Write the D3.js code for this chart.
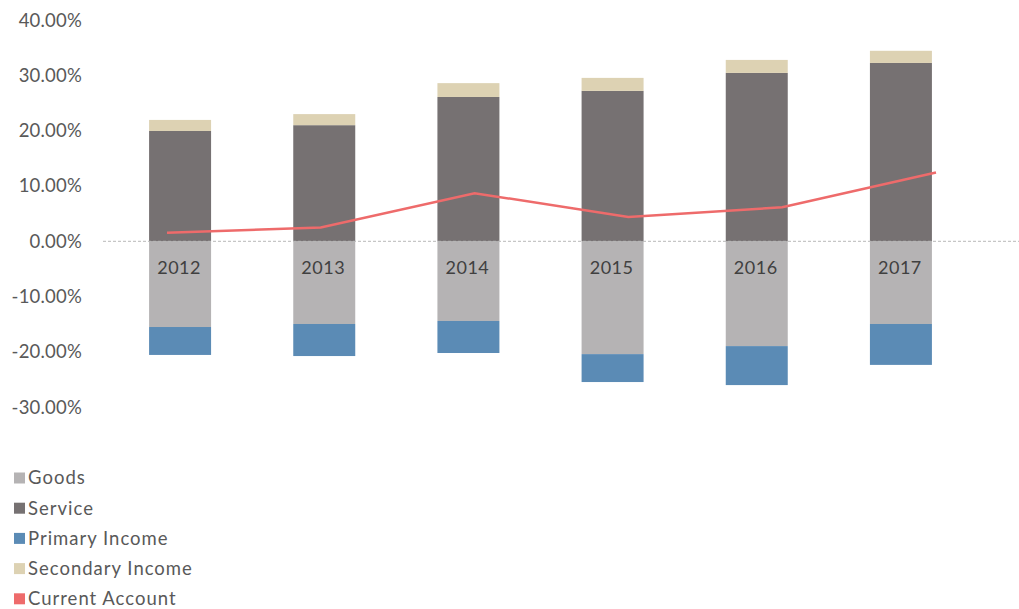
<!DOCTYPE html>
<html>
<head>
<meta charset="utf-8">
<script src="https://cdn.jsdelivr.net/npm/d3@7"></script>
<style>
  body { margin: 0; background: #fff; }
  text { font-family: Lato, "Open Sans", sans-serif; }
</style>
</head>
<body>
<script>
"use strict";

var years = ["2012", "2013", "2014", "2015", "2016", "2017"];
var goods = [-15.5, -14.95, -14.4, -20.4, -18.95, -14.95];
var service = [19.95, 21.0, 26.1, 27.2, 30.45, 32.25];
var primaryIncome = [-5.05, -5.8, -5.8, -5.05, -7.05, -7.4];
var secondaryIncome = [2.0, 2.0, 2.5, 2.35, 2.35, 2.2];
var currentAccount = [1.55, 2.5, 8.7, 4.4, 6.15, 12.45];
var yTicks = [40, 30, 20, 10, 0, -10, -20, -30];

var legendItems = [
  { name: "Goods", color: "#b5b3b4" },
  { name: "Service", color: "#767172" },
  { name: "Primary Income", color: "#5b8bb5" },
  { name: "Secondary Income", color: "#ddd2b3" },
  { name: "Current Account", color: "#ee6b6b" }
];

var width = 1019;
var height = 609;

var svg = d3.select("body").append("svg")
    .attr("width", width)
    .attr("height", height);

var y = d3.scaleLinear().domain([-30, 40]).range([407.2, 20.1]);

var x = d3.scaleBand().domain(years).range([108, 973]).paddingInner(0.57).paddingOuter(0.285);

// line uses its own evenly spaced positions (secondary category axis)
var xLine = d3.scalePoint().domain(years).range([167, 936]);

// y axis labels
svg.append("g").selectAll("text")
    .data(yTicks)
    .enter().append("text")
      .attr("x", 82)
      .attr("y", function (d) { return y(d); })
      .attr("dy", "0.35em")
      .attr("text-anchor", "end")
      .style("font-size", "18.5px")
      .style("letter-spacing", "0.2px")
      .style("fill", "#595959")
      .text(function (d) { return d.toFixed(2) + "%"; });

// stacked segments: positives stack up, negatives stack down
var segs = [];
years.forEach(function (yr, i) {
  segs.push({ year: yr, y0: 0, y1: goods[i], color: legendItems[0].color });
  segs.push({ year: yr, y0: goods[i], y1: goods[i] + primaryIncome[i], color: legendItems[2].color });
  segs.push({ year: yr, y0: 0, y1: service[i], color: legendItems[1].color });
  segs.push({ year: yr, y0: service[i], y1: service[i] + secondaryIncome[i], color: legendItems[3].color });
});

svg.append("g").selectAll("rect")
    .data(segs)
    .enter().append("rect")
      .attr("x", function (d) { return x(d.year); })
      .attr("width", x.bandwidth())
      .attr("y", function (d) { return y(Math.max(d.y0, d.y1)); })
      .attr("height", function (d) { return Math.abs(y(d.y0) - y(d.y1)); })
      .style("fill", function (d) { return d.color; });

// zero line
svg.append("line")
    .attr("x1", 103).attr("x2", width)
    .attr("y1", y(0)).attr("y2", y(0))
    .style("stroke", "#b8b8b8")
    .style("stroke-width", 1)
    .style("stroke-dasharray", "3,2");

// category labels
svg.append("g").selectAll("text")
    .data(years)
    .enter().append("text")
      .attr("x", function (d) { return x(d) + x.bandwidth() / 2 - 1; })
      .attr("y", 268)
      .attr("dy", "0.35em")
      .attr("text-anchor", "middle")
      .style("font-size", "18px")
      .style("letter-spacing", "0.5px")
      .style("fill", "#404040")
      .text(function (d) { return d; });

// current account line
var line = d3.line()
    .x(function (d, i) { return xLine(years[i]); })
    .y(function (d) { return y(d); });

svg.append("path")
    .datum(currentAccount)
    .attr("d", line)
    .style("fill", "none")
    .style("stroke", "#ee6b6b")
    .style("stroke-width", 2.5);

// legend
var legend = svg.append("g").selectAll("g")
    .data(legendItems)
    .enter().append("g")
      .attr("transform", function (d, i) { return "translate(14," + (478 + i * 30.2) + ")"; });

legend.append("rect")
    .attr("x", 0).attr("y", -5.5)
    .attr("width", 11).attr("height", 11)
    .style("fill", function (d) { return d.color; });

legend.append("text")
    .attr("x", 14)
    .attr("dy", "0.35em")
    .style("font-size", "18.5px")
    .style("letter-spacing", "1px")
    .style("fill", "#595959")
    .text(function (d) { return d.name; });
</script>
</body>
</html>
